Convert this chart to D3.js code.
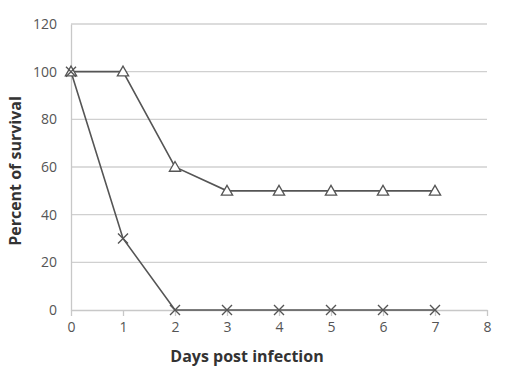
<!DOCTYPE html>
<html><head><meta charset="utf-8">
<script src="https://cdn.jsdelivr.net/npm/d3@7"></script>
<style>body{margin:0;background:#fff}</style>
</head><body>
<svg id="c" width="510" height="382"></svg>
<script>
const days = [0,1,2,3,4,5,6,7];
const seriesTriangle = [100,100,60,50,50,50,50,50];
const seriesCross = [100,30,0,0,0,0,0,0];
const xTicks = [0,1,2,3,4,5,6,7,8];
const yTicks = [0,20,40,60,80,100,120];

const svg = d3.select("#c");
const m = {l:71, r:23, t:24, b:72};
const W = 510, H = 382;
const x = d3.scaleLinear().domain([0,8]).range([m.l, W-m.r]);
const y = d3.scaleLinear().domain([0,120]).range([H-m.b, m.t]);
const font = "'Open Sans', 'Liberation Sans', sans-serif";

// gridlines
svg.append("g").selectAll("line").data(yTicks.filter(d=>d>0)).join("line")
  .attr("x1", x(0)).attr("x2", x(8)).attr("y1", d=>y(d)).attr("y2", d=>y(d))
  .attr("stroke","#d0d0d0").attr("stroke-width",1.3);

// y axis
const ya = svg.append("g").attr("transform",`translate(${x(0)},0)`)
  .call(d3.axisLeft(y).tickValues(yTicks).tickSize(0).tickPadding(14));
ya.select(".domain").attr("stroke","#c8c8c8").attr("stroke-width",1.3);
ya.selectAll("text").attr("font-family",font).attr("font-size",14).attr("fill","#555");

// x axis
const xa = svg.append("g").attr("transform",`translate(0,${y(0)})`)
  .call(d3.axisBottom(x).tickValues(xTicks).tickSize(6).tickSizeOuter(0).tickPadding(6));
xa.select(".domain").attr("stroke","#c8c8c8").attr("stroke-width",1.3);
xa.selectAll(".tick line").attr("stroke","#c8c8c8").attr("stroke-width",1.3);
xa.selectAll("text").attr("font-family",font).attr("font-size",14).attr("fill","#555");

// titles
svg.append("text").attr("x", 247).attr("y", 362).attr("text-anchor","middle")
  .attr("font-family",font).attr("font-weight","bold").attr("font-size",16).attr("fill","#333")
  .text("Days post infection");
svg.append("text").attr("transform",`translate(21,171) rotate(-90)`).attr("text-anchor","middle")
  .attr("font-family",font).attr("font-weight","bold").attr("font-size",16).attr("fill","#333")
  .text("Percent of survival");

const line = d3.line().x((d,i)=>x(days[i])).y(d=>y(d));
const col = "#555";
svg.append("path").datum(seriesTriangle).attr("d",line).attr("fill","none").attr("stroke",col).attr("stroke-width",1.6);
svg.append("path").datum(seriesCross).attr("d",line).attr("fill","none").attr("stroke",col).attr("stroke-width",1.6);

// triangle markers
const tri = d3.symbol().type(d3.symbolTriangle).size(55);
svg.append("g").selectAll("path").data(seriesTriangle).join("path")
  .attr("d", tri).attr("transform",(d,i)=>`translate(${x(days[i])},${y(d)+1})`)
  .attr("fill","#fff").attr("stroke",col).attr("stroke-width",1.3);
// cross markers
svg.append("g").selectAll("path").data(seriesCross).join("path")
  .attr("d", ()=>{const s=5; return `M${-s},${-s}L${s},${s}M${-s},${s}L${s},${-s}`;})
  .attr("transform",(d,i)=>`translate(${x(days[i])},${y(d)})`)
  .attr("fill","none").attr("stroke",col).attr("stroke-width",1.4);
</script>
</body></html>
